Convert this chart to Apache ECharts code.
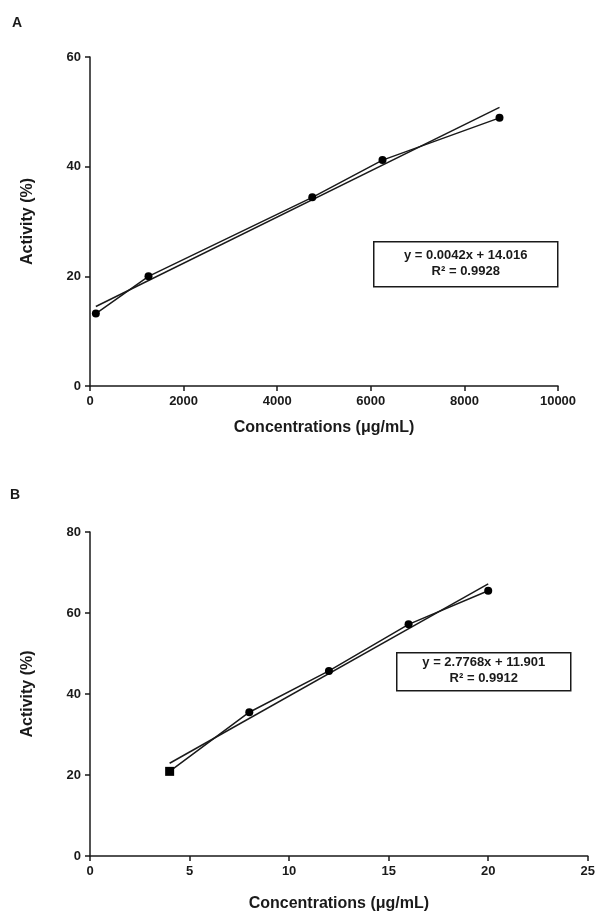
<!DOCTYPE html>
<html>
<head>
<meta charset="utf-8">
<script src="https://cdn.jsdelivr.net/npm/echarts@6/dist/echarts.min.js"></script>
<style>
  html, body { margin: 0; padding: 0; background: #fff; }
  #main { width: 598px; height: 913px; }
</style>
</head>
<body>
<div id="main"></div>
<script>
// panel A
var concA = [125, 1250, 4750, 6250, 8750];
var actA = [13.2, 20.0, 34.4, 41.2, 48.9];
var trendA = [[125, 14.5], [8750, 50.8]];
var eqA = ['y = 0.0042x + 14.016', 'R² = 0.9928'];

// panel B
var concB = [4, 8, 12, 16, 20];
var actB = [20.9, 35.5, 45.7, 57.2, 65.5];
var trendB = [[4, 22.9], [20, 67.2]];
var eqB = ['y = 2.7768x + 11.901', 'R² = 0.9912'];

var xName = 'Concentrations (μg/mL)';
var yName = 'Activity (%)';

var ink = '#1a1a1a';
var fontFam = '"Liberation Sans", Arial, sans-serif';

function pairs(xs, ys) {
  return xs.map(function (x, i) { return [x, ys[i]]; });
}

function xAxisOf(idx, max, step, gap) {
  return {
    type: 'value', gridIndex: idx, min: 0, max: max, interval: step,
    name: xName, nameLocation: 'middle', nameGap: gap,
    nameTextStyle: { color: ink, fontSize: 16, fontWeight: 'bold', fontFamily: fontFam },
    axisLine: { show: true, lineStyle: { color: ink, width: 1.5 } },
    axisTick: { show: true, length: 5, lineStyle: { color: ink, width: 1.5 } },
    axisLabel: { color: ink, fontSize: 13, fontWeight: 'bold', fontFamily: fontFam, margin: 9,
      formatter: function (v) { return String(v); } },
    splitLine: { show: false }
  };
}

function yAxisOf(idx, max, step) {
  return {
    type: 'value', gridIndex: idx, min: 0, max: max, interval: step,
    name: yName, nameLocation: 'middle', nameGap: 54, nameRotate: 90,
    nameTextStyle: { color: ink, fontSize: 16, fontWeight: 'bold', fontFamily: fontFam },
    axisLine: { show: true, lineStyle: { color: ink, width: 1.5 } },
    axisTick: { show: true, length: 5, lineStyle: { color: ink, width: 1.5 } },
    axisLabel: { color: ink, fontSize: 13, fontWeight: 'bold', fontFamily: fontFam, margin: 9 },
    splitLine: { show: false }
  };
}

function dataSeries(idx, xs, ys, firstSquare) {
  return {
    type: 'line', xAxisIndex: idx, yAxisIndex: idx,
    data: pairs(xs, ys).map(function (p, i) {
      return (firstSquare && i === 0) ? { value: p, symbol: 'rect', symbolSize: 9 } : { value: p };
    }),
    symbol: 'circle', symbolSize: 8,
    itemStyle: { color: '#000' },
    lineStyle: { color: ink, width: 1.5 },
    silent: true, animation: false, z: 3
  };
}

function trendSeries(idx, pts) {
  return {
    type: 'line', xAxisIndex: idx, yAxisIndex: idx,
    data: pts, showSymbol: false, symbol: 'none',
    lineStyle: { color: ink, width: 1.5 },
    silent: true, animation: false, z: 2
  };
}

function eqBox(left, top, w, h, lines) {
  return {
    type: 'group', left: left, top: top,
    children: [
      { type: 'rect', shape: { x: 0, y: 0, width: w, height: h },
        style: { fill: '#fff', stroke: ink, lineWidth: 1.5 } },
      { type: 'text', x: w / 2, y: h / 2 - 9,
        style: { text: lines[0], fill: ink, font: 'bold 13px ' + fontFam, align: 'center', verticalAlign: 'middle' } },
      { type: 'text', x: w / 2, y: h / 2 + 7,
        style: { text: lines[1], fill: ink, font: 'bold 13px ' + fontFam, align: 'center', verticalAlign: 'middle' } }
    ]
  };
}

var chart = echarts.init(document.getElementById('main'));
chart.setOption({
  backgroundColor: '#fff',
  animation: false,
  grid: [
    { left: 90, top: 57, width: 468, height: 329 },
    { left: 90, top: 532, width: 498, height: 329 }
  ],
  xAxis: [xAxisOf(0, 10000, 2000, 34), xAxisOf(1, 25, 5, 40)],
  yAxis: [yAxisOf(0, 60, 20), yAxisOf(1, 80, 20)],
  series: [
    trendSeries(0, trendA),
    dataSeries(0, concA, actA, false),
    trendSeries(1, trendB),
    dataSeries(1, concB, actB, true)
  ],
  graphic: [
    { type: 'text', left: 12, top: 16, style: { text: 'A', fill: ink, font: 'bold 14px ' + fontFam } },
    { type: 'text', left: 10, top: 488, style: { text: 'B', fill: ink, font: 'bold 14px ' + fontFam } },
    eqBox(373, 241, 184, 45, eqA),
    eqBox(396, 652, 174, 38, eqB)
  ]
});
</script>
</body>
</html>
